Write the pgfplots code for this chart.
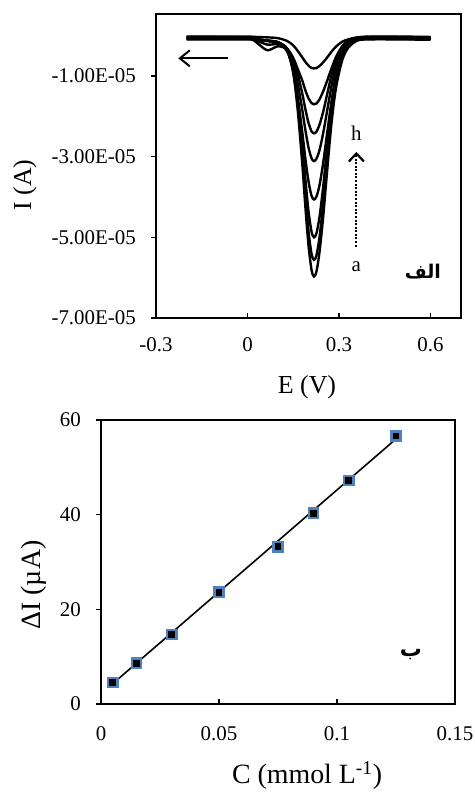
\documentclass[border=0pt]{standalone}
\usepackage{pgfplots}
\usepackage{pgfplotstable}
\pgfplotsset{compat=1.18}
\usepackage{fontspec}
\setmainfont{Liberation Serif}
\newfontfamily\arabicfont[Script=Arabic]{DejaVu Sans}
\TeXXeTstate=1
\usetikzlibrary{arrows.meta}
\definecolor{mkblue}{RGB}{79,129,189}

% voltammograms, current in units of 1e-5 A
\pgfplotstableread{
E      c1     c2     c3     c4     c5     c6     c7     c8
-0.2  -0.09  -0.07  -0.06  -0.05  -0.04  -0.03  -0.08  -0.02
-0.1  -0.09  -0.07  -0.06  -0.05  -0.04  -0.03  -0.08  -0.02
0.0   -0.09  -0.07  -0.06  -0.05  -0.05  -0.05  -0.08  -0.02
0.03  -0.11  -0.09  -0.09  -0.08  -0.12  -0.17  -0.10  -0.03
0.065 -0.13  -0.12  -0.12  -0.12  -0.22  -0.36  -0.13  -0.04
0.1   -0.16  -0.16  -0.16  -0.17  -0.21  -0.26  -0.18  -0.06
0.13  -0.36  -0.34  -0.32  -0.39  -0.33  -0.34  -0.32  -0.13
0.15  -0.93  -0.88  -0.80  -0.87  -0.70  -0.59  -0.55  -0.24
0.165 -1.87  -1.74  -1.58  -1.55  -1.21  -0.96  -0.83  -0.38
0.18  -3.22  -3.00  -2.70  -2.42  -1.86  -1.45  -1.12  -0.54
0.19  -4.27  -3.98  -3.58  -3.06  -2.35  -1.83  -1.36  -0.65
0.2   -5.20  -4.84  -4.35  -3.61  -2.77  -2.16  -1.55  -0.74
0.21  -5.81  -5.41  -4.86  -3.97  -3.04  -2.37  -1.67  -0.80
0.218 -5.97  -5.56  -5.00  -4.06  -3.11  -2.42  -1.70  -0.81
0.226 -5.85  -5.45  -4.90  -3.99  -3.05  -2.38  -1.68  -0.80
0.236 -5.37  -5.00  -4.50  -3.71  -2.84  -2.21  -1.58  -0.75
0.248 -4.50  -4.18  -3.75  -3.16  -2.42  -1.89  -1.38  -0.66
0.26  -3.45  -3.20  -2.86  -2.48  -1.91  -1.49  -1.14  -0.55
0.275 -2.20  -2.03  -1.82  -1.65  -1.27  -0.99  -0.82  -0.40
0.29  -1.30  -1.20  -1.08  -0.97  -0.75  -0.60  -0.53  -0.27
0.31  -0.62  -0.56  -0.50  -0.45  -0.33  -0.27  -0.27  -0.15
0.33  -0.30  -0.26  -0.22  -0.20  -0.14  -0.12  -0.14  -0.09
0.36  -0.12  -0.11  -0.10  -0.09  -0.06  -0.05  -0.08  -0.04
0.4   -0.09  -0.07  -0.06  -0.05  -0.04  -0.03  -0.08  -0.02
0.5   -0.09  -0.07  -0.06  -0.05  -0.04  -0.03  -0.08  -0.02
0.6   -0.10  -0.08  -0.07  -0.06  -0.05  -0.04  -0.09  -0.03
}\cvdata

\newcommand{\tickfont}{\fontsize{21}{22}\selectfont}

\pgfplotsset{
  panel/.style={
    scale only axis, clip=false,
    /pgf/number format/assume math mode=true,
    axis line style={line width=1.3pt},
    tick style={line width=1.3pt, black},
    major tick length=5bp,
    tick pos=left,
    xtick align=inside, ytick align=outside,
    tick label style={font=\tickfont},
    yticklabel style={anchor=east, inner sep=0pt},
    xticklabel style={anchor=north, inner sep=0pt},
    scaled ticks=false,
  },
  cv/.style={black, line width=2.4pt, smooth, no markers},
}

\begin{document}
\begin{tikzpicture}[x=1bp,y=1bp]
\path[use as bounding box] (0,0) rectangle (475,794);

% top panel
\begin{axis}[panel,
  at={(156bp,476bp)}, anchor=south west,
  width=305bp, height=304bp,
  xmin=-0.3, xmax=0.7, ymin=-7, ymax=0.54,
  xtick={-0.3,0,0.3,0.6}, xticklabels={-0.3,0,0.3,0.6},
  ytick={-7,-5,-3,-1},
  yticklabels={-7.00E-05,-5.00E-05,-3.00E-05,-1.00E-05},
  xticklabel shift=19bp, yticklabel shift=15bp,
  xlabel={E (V)}, ylabel={I (A)},
  label style={font=\fontsize{26}{28}\selectfont},
  xlabel style={at={(axis description cs:0.495,-0.227)}, anchor=center},
  ylabel style={at={(axis description cs:-0.4295,0.4375)}, anchor=center},
]
\addplot[cv] table[x=E,y=c1]{\cvdata};
\addplot[cv] table[x=E,y=c2]{\cvdata};
\addplot[cv] table[x=E,y=c3]{\cvdata};
\addplot[cv] table[x=E,y=c4]{\cvdata};
\addplot[cv] table[x=E,y=c5]{\cvdata};
\addplot[cv] table[x=E,y=c6]{\cvdata};
\addplot[cv] table[x=E,y=c7]{\cvdata};
\addplot[cv] table[x=E,y=c8]{\cvdata};
\draw[line width=2pt, -{Straight Barb[length=10bp,width=16bp]}]
  (axis cs:-0.063,-0.56) -- (axis cs:-0.227,-0.56);
\draw[line width=2.2pt, dash pattern=on 2pt off 1.6pt,
  -{Straight Barb[length=8bp,width=15bp]}]
  (axis cs:0.357,-5.23) -- (axis cs:0.357,-2.88);
\node[font=\tickfont] at (axis cs:0.357,-2.41) {h};
\node[font=\tickfont] at (axis cs:0.357,-5.73) {a};
\node at (axis cs:0.575,-5.85)
  {\arabicfont\bfseries\fontsize{19}{22}\selectfont\beginR الف\endR};
\end{axis}

% bottom panel
\begin{axis}[panel,
  at={(101bp,90bp)}, anchor=south west,
  width=354bp, height=284bp,
  xmin=0, xmax=0.15, ymin=0, ymax=60,
  xtick={0,0.05,0.1,0.15}, xticklabels={0,0.05,0.1,0.15},
  ytick={0,20,40,60}, yticklabels={0,20,40,60},
  xticklabel shift=22bp, yticklabel shift=15bp,
  xlabel={C (mmol L\textsuperscript{-1})}, ylabel={ΔI (µA)},
  label style={font=\fontsize{28}{30}\selectfont},
  xlabel style={at={(axis description cs:0.582,-0.2535)}, anchor=center},
  ylabel style={at={(axis description cs:-0.189,0.419)}, anchor=center},
]
\addplot[black, line width=1.6pt] coordinates {(0.005,4.3) (0.125,56.0)};
\addplot[only marks, mark=square*, mark size=4.6bp,
  mark options={fill=black, draw=mkblue, line width=2.4bp}]
  coordinates {(0.005,4.5) (0.015,8.6) (0.03,14.7) (0.05,23.6)
               (0.075,33.2) (0.09,40.3) (0.105,47.2) (0.125,56.6)};
\node at (axis cs:0.1313,10.5)
  {\arabicfont\bfseries\fontsize{22}{24}\selectfont\beginR ب\endR};
\end{axis}
\end{tikzpicture}
\end{document}
